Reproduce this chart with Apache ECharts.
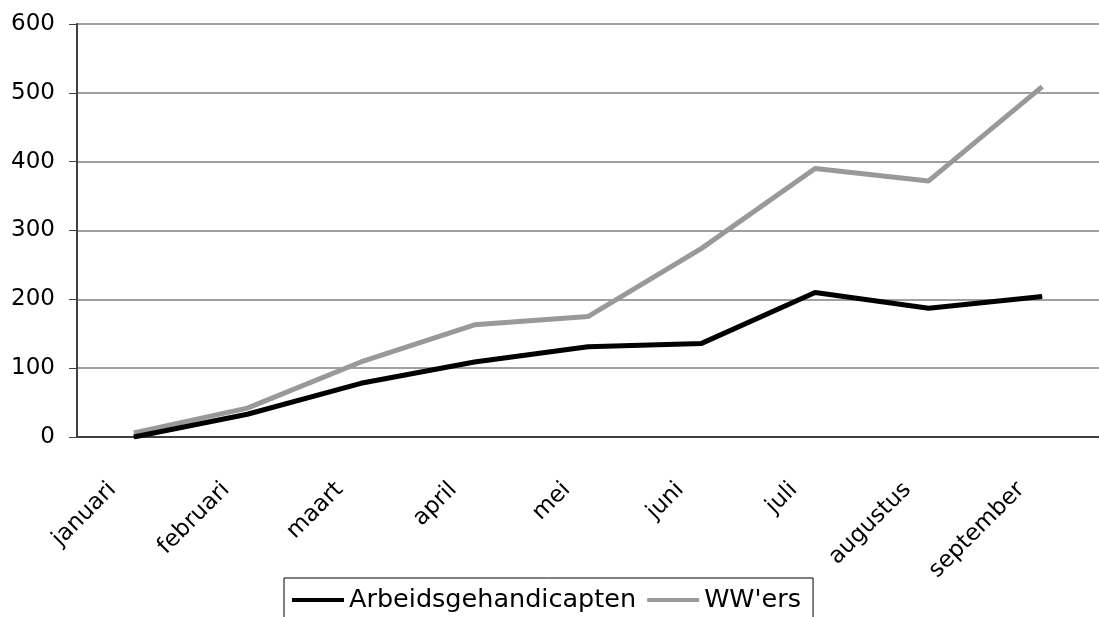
<!DOCTYPE html>
<html>
<head>
<meta charset="utf-8">
<script src="https://cdn.jsdelivr.net/npm/echarts@6/dist/echarts.min.js"></script>
<style>
html, body { margin: 0; padding: 0; background: #fff; }
#main { width: 1099px; height: 617px; }
</style>
</head>
<body>
<div id="main"></div>
<script>
// maanden
var months = ['januari', 'februari', 'maart', 'april', 'mei', 'juni', 'juli', 'augustus', 'september'];
var arbeidsgehandicapten = [0, 33, 78, 109, 131, 136, 210, 187, 204];
var wwers = [6, 42, 109, 163, 175, 274, 390, 372, 509];
var yTicks = [0, 100, 200, 300, 400, 500, 600];

var myChart = echarts.init(document.getElementById('main'));
var font = 'DejaVu Sans';

var option = {
    animation: false,
    backgroundColor: '#fff',
    grid: {
        left: 77,
        top: 24,
        width: 1035,   // rechterkant valt buiten beeld
        height: 413
    },
    legend: {
        left: 284,
        top: 578,
        padding: [9, 12, 30, 8],
        borderColor: '#000',
        borderWidth: 1,
        icon: 'rect',
        itemWidth: 52,
        itemHeight: 4,
        itemGap: 11,
        textStyle: { fontFamily: font, fontSize: 25.5, color: '#000' },
        data: ['Arbeidsgehandicapten', "WW'ers"]
    },
    xAxis: {
        type: 'category',
        data: months,
        axisLine: { lineStyle: { color: '#404040', width: 2 } },
        axisTick: { length: 8, lineStyle: { color: '#000', width: 1 } },
        axisLabel: {
            rotate: 45,
            margin: 28,
            padding: [0, 30, 0, 0],
            fontFamily: font,
            fontSize: 23,
            color: '#000',
            interval: 0
        }
    },
    yAxis: {
        type: 'value',
        min: yTicks[0],
        max: yTicks[yTicks.length - 1],
        interval: 100,
        axisLine: { show: true, lineStyle: { color: '#404040', width: 2 } },
        axisTick: { show: true, length: 8, lineStyle: { color: '#404040', width: 1 } },
        axisLabel: { margin: 22, fontFamily: font, fontSize: 23, color: '#000' },
        splitLine: { lineStyle: { color: '#808080', width: 1.5 } }
    },
    series: [
        {
            name: 'Arbeidsgehandicapten',
            type: 'line',
            data: arbeidsgehandicapten,
            symbol: 'none',
            color: '#000',
            lineStyle: { color: '#000', width: 5 },
            z: 3
        },
        {
            name: "WW'ers",
            type: 'line',
            data: wwers,
            symbol: 'none',
            color: '#999999',
            lineStyle: { color: '#999999', width: 5 },
            z: 2
        }
    ]
};

myChart.setOption(option);
</script>
</body>
</html>
